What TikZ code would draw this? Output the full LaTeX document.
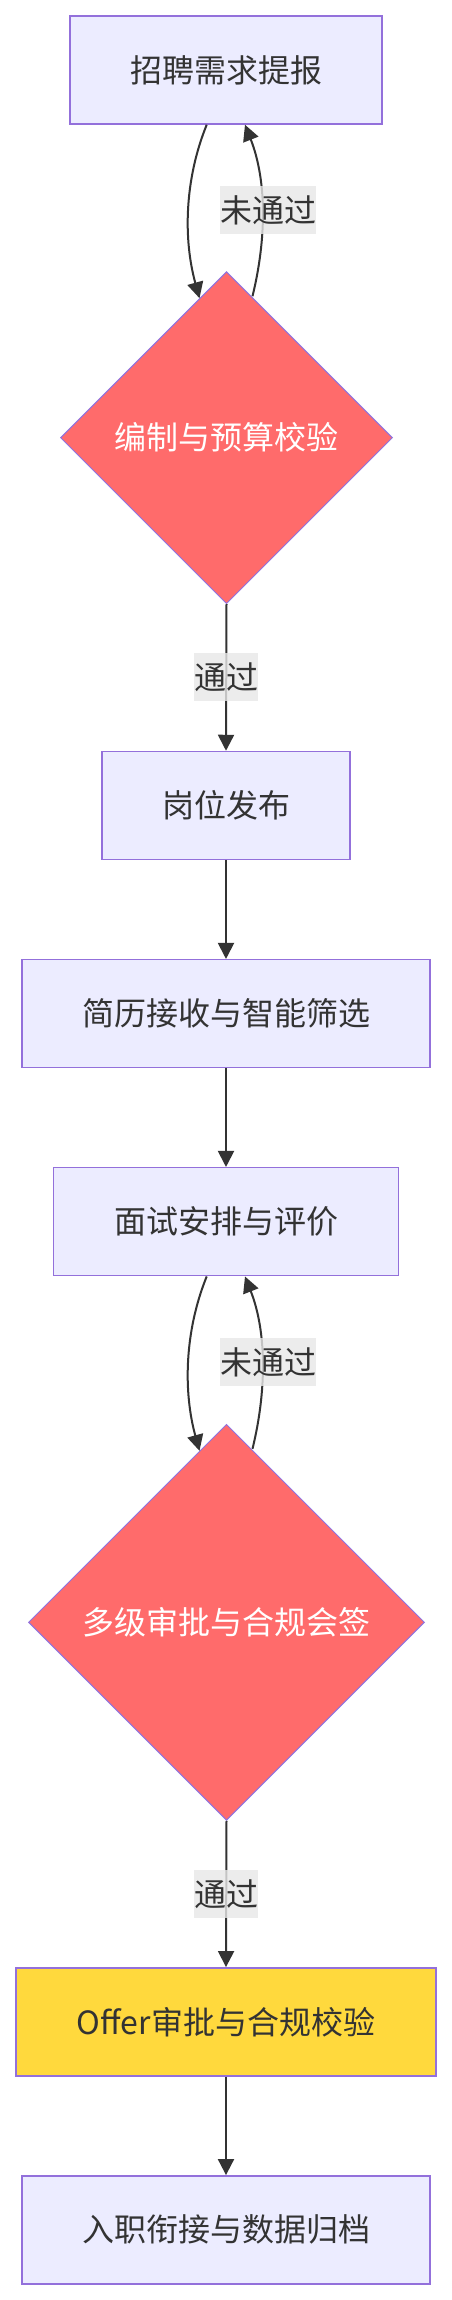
\documentclass[tikz,border=0pt]{standalone}
\usepackage{fontspec}
\setmainfont{Noto Sans CJK SC}
\usetikzlibrary{shapes.geometric,arrows.meta,calc}
\definecolor{boxfill}{HTML}{ECECFF}
\definecolor{boxline}{HTML}{9370DB}
\definecolor{decfill}{HTML}{FF6B6B}
\definecolor{decline}{HTML}{8F73E0}
\definecolor{offerfill}{HTML}{FFD93D}
\definecolor{edgecol}{HTML}{333333}
\definecolor{txt}{HTML}{333333}
\definecolor{lblbg}{HTML}{E8E8E8}
\begin{document}
\begin{tikzpicture}[x=1pt,y=-1pt,
  every node/.style={font=\fontsize{32}{38}\selectfont, text=txt},
  procbox/.style={rectangle, draw=boxline, line width=1.5pt, fill=boxfill, minimum height=108pt, inner sep=0pt},
  decision/.style={diamond, aspect=1, draw=decline, line width=1pt, fill=decfill, text=white, inner sep=0pt},
  lbl/.style={fill=lblbg, fill opacity=0.8, text opacity=1, inner sep=0pt, minimum height=48pt},
  flow/.style={draw=edgecol, line width=2pt, -{Triangle[length=16pt,width=16pt]}}]
\fill[white] (0,0) rectangle (451,2300);
\useasboundingbox (0,0) rectangle (451,2300);

\node[procbox, minimum width=312pt] (req) at (226,70) {招聘需求提报};
\node[decision, minimum width=332pt, minimum height=332pt] (dia1) at (226.5,437.7) {编制与预算校验};
\node[procbox, minimum width=248pt] (pub) at (226,805.5) {岗位发布};
\node[procbox, minimum width=408pt] (scr) at (226,1013.7) {简历接收与智能筛选};
\node[procbox, minimum width=345pt] (itv) at (226,1221.7) {面试安排与评价};
\node[decision, minimum width=396pt, minimum height=396pt] (dia2) at (226.5,1622.3) {多级审批与合规会签};
\node[procbox, minimum width=420pt, fill=offerfill] (offer) at (226,2021.8) {Offer审批与合规校验};
\node[procbox, minimum width=408pt] (onb) at (226,2229.8) {入职衔接与数据归档};

% loop 1
\draw[flow] ($(req.south)+(-19.3,0)$) .. controls +(-22.7,56) and +(-16,-58) .. ($(dia1.north)+(-27,27)$);
\draw[flow] ($(dia1.north)+(26,25)$) .. controls +(14,-57) and +(22,56) .. ($(req.south)+(19,0)$)
  node[lbl, pos=0.5, xshift=6pt] (lab1) {未通过};
\draw[flow] (dia1.south) -- (pub.north) node[lbl, midway] (lab2) {通过};
\draw[flow] (pub.south) -- (scr.north);
\draw[flow] (scr.south) -- (itv.north);
% loop 2
\draw[flow] ($(itv.south)+(-19.3,0)$) .. controls +(-22.7,56) and +(-16,-58) .. ($(dia2.north)+(-27,27)$);
\draw[flow] ($(dia2.north)+(26,25)$) .. controls +(14,-57) and +(22,56) .. ($(itv.south)+(19,0)$)
  node[lbl, pos=0.5, xshift=6pt] (lab3) {未通过};
\draw[flow] (dia2.south) -- (offer.north) node[lbl, midway] (lab4) {通过};
\draw[flow] (offer.south) -- (onb.north);
\end{tikzpicture}
\end{document}
